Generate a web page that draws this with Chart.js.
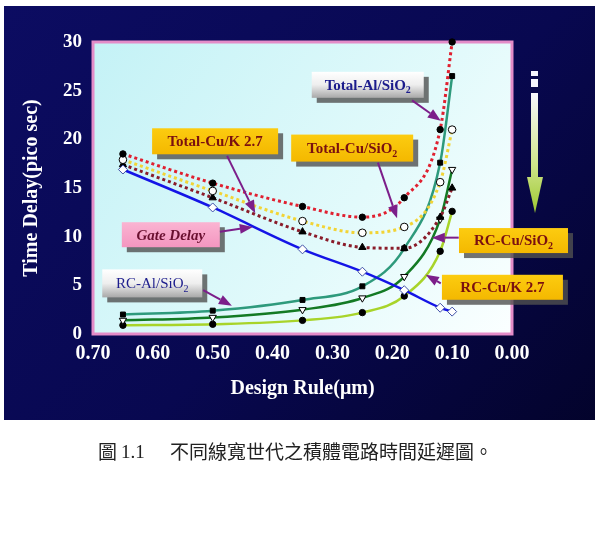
<!DOCTYPE html>
<html>
<head>
<meta charset="utf-8">
<script src="https://cdn.jsdelivr.net/npm/chart.js@4.4.0/dist/chart.umd.min.js"></script>
<style>
    html, body { margin: 0; padding: 0; background: #fff; }
    canvas { display: block; }
</style>
</head>
<body>
<canvas id="delayChart" width="598" height="551"></canvas>
<script>
// Design rule nodes (um) and delays (ps)
const designRule = [0.65, 0.50, 0.35, 0.25, 0.18, 0.12, 0.10];
const gateDelay     = [16.9, 13.0, 8.7, 6.4, 4.5, 2.7, 2.3];
const totalAlSiO2   = [18.5, 15.5, 13.1, 12.0, 14.0, 21.0, 30.0];
const totalCuSiO2   = [17.9, 14.7, 11.6, 10.4, 11.0, 15.6, 21.0];
const totalCuK27    = [17.4, 14.0, 10.5, 8.9, 8.8, 12.0, 15.0];
const rcAlSiO2      = [2.0, 2.4, 3.5, 4.9, 8.8, 17.6, 26.5];
const rcCuSiO2      = [1.4, 1.7, 2.5, 3.7, 5.9, 11.8, 16.9];
const rcCuK27       = [0.9, 1.0, 1.4, 2.2, 3.9, 8.5, 12.6];

const xTicks = [0.70, 0.60, 0.50, 0.40, 0.30, 0.20, 0.10, 0.00];
const yTicks = [0, 5, 10, 15, 20, 25, 30];

const serif = "'Liberation Serif', 'DejaVu Serif', serif";

function toPoints(values) {
    return designRule.map((x, i) => ({ x: x, y: values[i] }));
}

// callout boxes, placed in data coordinates
const notes = [
    { text: 'Total-Al/SiO', sub: '2', x: 0.241, y: 25.6, w: 112, h: 26, kind: 'grey', color: '#1c1c8c',
      tail: [0.167, 24.0], tip: [0.119, 21.9] },
    { text: 'Total-Cu/K 2.7', sub: '', x: 0.496, y: 19.8, w: 126, h: 26, kind: 'gold', color: '#7a1010',
      tail: [0.476, 18.3], tip: [0.429, 12.4] },
    { text: 'Total-Cu/SiO', sub: '2', x: 0.267, y: 19.1, w: 122, h: 27, kind: 'gold', color: '#7a1010',
      tail: [0.224, 17.6], tip: [0.192, 11.9] },
    { text: 'Gate Delay', sub: '', x: 0.570, y: 10.2, w: 98, h: 25, kind: 'pink', color: '#6a1030', italic: true,
      tail: [0.488, 10.5], tip: [0.433, 11.0] },
    { text: 'RC-Al/SiO', sub: '2', x: 0.601, y: 5.2, w: 100, h: 28, kind: 'grey', color: '#1c1c8c', light: true,
      tail: [0.516, 4.5], tip: [0.468, 2.9] },
    { text: 'RC-Cu/SiO', sub: '2', x: -0.0025, y: 9.6, w: 109, h: 25, kind: 'gold', color: '#7a1010',
      tail: [0.089, 9.9], tip: [0.134, 9.9] },
    { text: 'RC-Cu/K 2.7', sub: '', x: 0.016, y: 4.8, w: 121, h: 25, kind: 'gold', color: '#7a1010',
      tail: [0.119, 5.2], tip: [0.144, 6.1] }
];

function drawArrow(ctx, x1, y1, x2, y2) {
    const ang = Math.atan2(y2 - y1, x2 - x1);
    const headLen = 13, headW = 5;
    const bx = x2 - headLen * Math.cos(ang), by = y2 - headLen * Math.sin(ang);
    ctx.strokeStyle = '#7c1e8a';
    ctx.fillStyle = '#7c1e8a';
    ctx.lineWidth = 2;
    ctx.beginPath();
    ctx.moveTo(x1, y1);
    ctx.lineTo(bx, by);
    ctx.stroke();
    ctx.beginPath();
    ctx.moveTo(x2, y2);
    ctx.lineTo(bx + headW * Math.sin(ang), by - headW * Math.cos(ang));
    ctx.lineTo(bx - headW * Math.sin(ang), by + headW * Math.cos(ang));
    ctx.closePath();
    ctx.fill();
}

function drawNote(ctx, n, xs, ys) {
    const cx = xs.getPixelForValue(n.x), cy = ys.getPixelForValue(n.y);
    const left = cx - n.w / 2, top = cy - n.h / 2;

    ctx.save();
    ctx.fillStyle = 'rgba(80,80,80,0.8)';
    ctx.fillRect(left + 5, top + 5, n.w, n.h);

    let g = ctx.createLinearGradient(left, top, left, top + n.h);
    if (n.kind === 'grey') {
        g.addColorStop(0, '#ffffff');
        g.addColorStop(0.5, '#eeeeee');
        g.addColorStop(1, '#a8a8a8');
    } else if (n.kind === 'pink') {
        g.addColorStop(0, '#fab4d2');
        g.addColorStop(1, '#f496c0');
    } else {
        g.addColorStop(0, '#fccc10');
        g.addColorStop(1, '#f4b800');
    }
    ctx.fillStyle = g;
    ctx.fillRect(left, top, n.w, n.h);

    const weight = n.light ? 'normal' : 'bold';
    const style = n.italic ? 'italic ' : '';
    ctx.font = style + weight + ' 15px ' + serif;
    const mainW = ctx.measureText(n.text).width;
    const subFont = weight + ' 10px ' + serif;
    ctx.font = subFont;
    const subW = n.sub ? ctx.measureText(n.sub).width : 0;
    let tx = cx - (mainW + subW) / 2;
    ctx.fillStyle = n.color;
    ctx.textBaseline = 'middle';
    ctx.textAlign = 'left';
    ctx.font = style + weight + ' 15px ' + serif;
    ctx.fillText(n.text, tx, cy + 1);
    if (n.sub) {
        ctx.font = subFont;
        ctx.fillText(n.sub, tx + mainW, cy + 6);
    }

    drawArrow(ctx, xs.getPixelForValue(n.tail[0]), ys.getPixelForValue(n.tail[1]),
        xs.getPixelForValue(n.tip[0]), ys.getPixelForValue(n.tip[1]));
    ctx.restore();
}

const panelPlugin = {
    id: 'panelPlugin',
    beforeDraw(chart) {
        const { ctx, chartArea: a } = chart;
        ctx.save();
        ctx.fillStyle = '#ffffff';
        ctx.fillRect(0, 0, chart.width, chart.height);
        // dark slide background
        let g = ctx.createLinearGradient(0, 0, 520, 520);
        g.addColorStop(0, '#0c0c62');
        g.addColorStop(0.55, '#080850');
        g.addColorStop(1, '#03032a');
        ctx.fillStyle = g;
        ctx.fillRect(4, 6, 591, 414);
        // plot area
        g = ctx.createLinearGradient(a.left, a.top, a.right, a.bottom);
        g.addColorStop(0, '#c4f2f6');
        g.addColorStop(0.6, '#e2fafb');
        g.addColorStop(1, '#fbffff');
        ctx.fillStyle = g;
        ctx.fillRect(a.left, a.top, a.right - a.left, a.bottom - a.top);
        ctx.restore();
    },
    beforeDatasetsDraw(chart) {
        const { ctx, chartArea: a } = chart;
        ctx.save();
        ctx.strokeStyle = '#e48cc8';
        ctx.lineWidth = 3;
        ctx.strokeRect(a.left, a.top, a.right - a.left, a.bottom - a.top);
        ctx.restore();
    },
    afterDraw(chart) {
        const { ctx, scales } = chart;
        notes.forEach(n => drawNote(ctx, n, scales.x, scales.y));

        // scaling-down arrow on the right
        ctx.save();
        ctx.fillStyle = '#f4f4ff';
        ctx.fillRect(531, 71, 7, 5);
        ctx.fillRect(531, 79, 7, 8);
        let g = ctx.createLinearGradient(0, 93, 0, 213);
        g.addColorStop(0, '#f8f8ff');
        g.addColorStop(0.6, '#cfe48a');
        g.addColorStop(1, '#9cc830');
        ctx.fillStyle = g;
        ctx.fillRect(531, 93, 7, 86);
        ctx.beginPath();
        ctx.moveTo(527, 177);
        ctx.lineTo(543, 177);
        ctx.lineTo(535, 213);
        ctx.closePath();
        ctx.fill();

        // caption
        ctx.fillStyle = '#222';
        ctx.textBaseline = 'middle';
        ctx.textAlign = 'left';
        ctx.font = "19px 'Noto Sans CJK TC', sans-serif";
        ctx.fillText('圖', 98, 452);
        ctx.font = '19px ' + serif;
        ctx.fillText('1.1', 121, 453);
        ctx.font = "19px 'Noto Sans CJK TC', sans-serif";
        ctx.fillText('不同線寬世代之積體電路時間延遲圖。', 170, 452);
        ctx.restore();
    }
};

function lineSet(label, values, color, dotted, point) {
    return Object.assign({
        label: label,
        data: toPoints(values),
        borderColor: color,
        borderWidth: dotted ? 3 : 2.5,
        borderDash: dotted ? [3, 3] : [],
        cubicInterpolationMode: 'monotone',
        fill: false,
        clip: false,
        pointBorderWidth: 1,
        pointHoverRadius: 4
    }, point);
}

const datasets = [
    lineSet('Gate Delay', gateDelay, '#1414e6', false,
        { pointStyle: 'rectRot', pointRadius: 4.5, pointBackgroundColor: '#ffffff', pointBorderColor: '#4050a8' }),
    lineSet('Total-Al/SiO2', totalAlSiO2, '#e02030', true,
        { pointStyle: 'circle', pointRadius: 3.2, pointBackgroundColor: '#000', pointBorderColor: '#000' }),
    lineSet('Total-Cu/SiO2', totalCuSiO2, '#f2d436', true,
        { pointStyle: 'circle', pointRadius: 3.8, pointBackgroundColor: '#fff', pointBorderColor: '#000' }),
    lineSet('Total-Cu/K 2.7', totalCuK27, '#8a1c2a', true,
        { pointStyle: 'triangle', pointRadius: 4.2, pointBackgroundColor: '#000', pointBorderColor: '#000' }),
    lineSet('RC-Al/SiO2', rcAlSiO2, '#2e9a7c', false,
        { pointStyle: 'rect', pointRadius: 3.5, pointBackgroundColor: '#000', pointBorderColor: '#000' }),
    lineSet('RC-Cu/SiO2', rcCuSiO2, '#137a24', false,
        { pointStyle: 'triangle', pointRotation: 180, pointRadius: 4.2, pointBackgroundColor: '#fff', pointBorderColor: '#000' }),
    lineSet('RC-Cu/K 2.7', rcCuK27, '#a8d42a', false,
        { pointStyle: 'circle', pointRadius: 3.2, pointBackgroundColor: '#000', pointBorderColor: '#000' })
];

const ctx = document.getElementById('delayChart');
new Chart(ctx, {
    type: 'line',
    data: { datasets: datasets },
    plugins: [panelPlugin],
    options: {
        responsive: false,
        animation: false,
        layout: {
            padding: { left: 4, top: 42, right: 86, bottom: 137 }
        },
        plugins: {
            legend: { display: false },
            tooltip: { enabled: false }
        },
        scales: {
            x: {
                type: 'linear',
                reverse: true,
                min: 0,
                max: 0.7,
                afterFit: (s) => { s.height = 80; },
                afterBuildTicks: (s) => { s.ticks = xTicks.map(v => ({ value: v })); },
                border: { display: false },
                grid: { display: false, drawTicks: false },
                ticks: {
                    color: '#ffffff',
                    padding: 8,
                    maxRotation: 0,
                    font: { family: serif, size: 20, weight: 'bold' },
                    callback: (v) => Number(v).toFixed(2)
                },
                title: {
                    display: true,
                    text: 'Design Rule(\u03bcm)',
                    color: '#ffffff',
                    padding: { top: 0, bottom: 13 },
                    font: { family: serif, size: 20, weight: 'bold' }
                }
            },
            y: {
                min: 0,
                max: 30,
                afterFit: (s) => { s.width = 89; },
                afterBuildTicks: (s) => { s.ticks = yTicks.map(v => ({ value: v })); },
                border: { display: false },
                grid: { display: false, drawTicks: false },
                ticks: {
                    color: '#ffffff',
                    padding: 11,
                    font: { family: serif, size: 19, weight: 'bold' }
                },
                title: {
                    display: true,
                    text: 'Time Delay(pico sec)',
                    color: '#ffffff',
                    padding: { top: 16, bottom: 0 },
                    font: { family: serif, size: 20, weight: 'bold' }
                }
            }
        }
    }
});
</script>
</body>
</html>
